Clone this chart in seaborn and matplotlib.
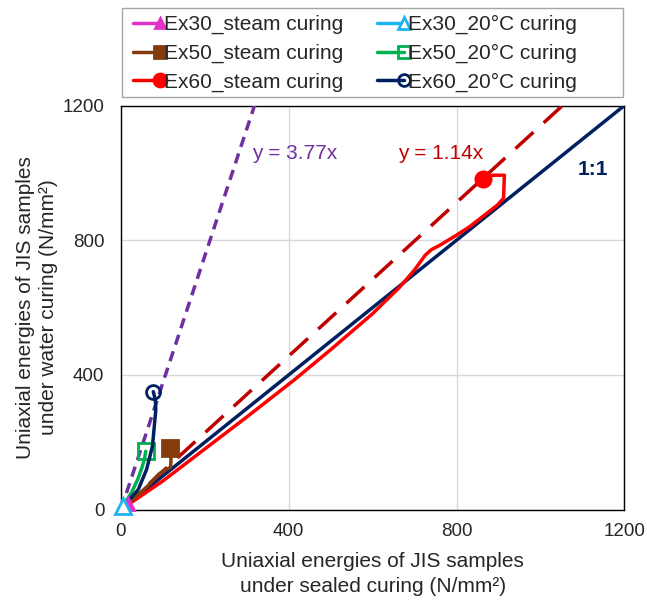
import numpy as np
import pandas as pd
import matplotlib
matplotlib.use("Agg")
import matplotlib.pyplot as plt
from matplotlib.legend_handler import HandlerLine2D
from matplotlib.patches import Rectangle
import seaborn as sns

# Uniaxial energy paths (sealed curing on x, water curing on y), N/mm2
ex30_steam_x = [0, 6, 12, 17]
ex30_steam_y = [0, 5, 10, 15]
ex30_20c_x = [0, 2, 4]
ex30_20c_y = [0, 5, 10]
ex50_steam_x = [0, 30, 63, 90, 105, 118, 119, 119, 118]
ex50_steam_y = [0, 32, 69, 105, 118, 125, 140, 160, 183]
ex50_20c_x = [0, 10, 25, 40, 50, 56, 59]
ex50_20c_y = [0, 20, 50, 90, 125, 150, 173]
ex60_steam_x = [0, 100, 200, 300, 413, 500, 600, 664, 700, 725, 740, 760,
                800, 831, 860, 898, 912, 914, 886, 863]
ex60_steam_y = [0, 85, 180, 275, 385, 475, 582, 660, 712, 755, 772, 785,
                815, 840, 868, 905, 925, 993, 993, 983]
ex60_20c_x = [0, 14, 41, 61, 75, 83, 82, 77]
ex60_20c_y = [0, 21, 59, 119, 188, 296, 325, 350]

# Fitted slopes and reference line
slope_20c = 3.77
slope_steam = 1.14
axis_max = 1200
ticks = [0, 400, 800, 1200]

FS = 15
TICK_FS = 13.5

sns.set_style("white")
plt.rcParams["font.family"] = ["Liberation Sans", "DejaVu Sans"]
plt.rcParams["font.size"] = FS

W, H = 647, 603
fig = plt.figure(figsize=(W / 100, H / 100), dpi=100)
ax = fig.add_axes([0.187, 0.155, 0.778, 0.670])

# reference lines
ref_x = [0, axis_max]
sns.lineplot(x=ref_x, y=ref_x, ax=ax, color="#002060", lw=2.5, zorder=2)
sns.lineplot(x=[0, axis_max / slope_20c], y=[0, axis_max], ax=ax,
             color="#7030A0", lw=2.5, zorder=2)
ax.lines[-1].set_dashes([3, 2])
sns.lineplot(x=[0, axis_max / slope_steam], y=[0, axis_max], ax=ax,
             color="#C00000", lw=2.5, zorder=2)
ax.lines[-1].set_dashes([7, 4])

series = [
    ("Ex30_steam curing", ex30_steam_x, ex30_steam_y, "#E032C8", "^", "#E032C8", 8),
    ("Ex30_20°C curing", ex30_20c_x, ex30_20c_y, "#1EB4F0", "^", "white", 11),
    ("Ex50_steam curing", ex50_steam_x, ex50_steam_y, "#843C0C", "s", "#843C0C", 11),
    ("Ex50_20°C curing", ex50_20c_x, ex50_20c_y, "#00B050", "s", "none", 11),
    ("Ex60_steam curing", ex60_steam_x, ex60_steam_y, "#FF0000", "o", "#FF0000", 11),
    ("Ex60_20°C curing", ex60_20c_x, ex60_20c_y, "#002060", "o", "none", 10),
]
draw_order = [4, 2, 3, 5, 0, 1]
handles = {}
for i in draw_order:
    name, xs, ys, col, mk, face, ms = series[i]
    df = pd.DataFrame({"x": xs, "y": ys})
    sns.lineplot(data=df, x="x", y="y", ax=ax, sort=False, estimator=None,
                 color=col, lw=2.5, marker=mk, markevery=[-1], markersize=ms,
                 markerfacecolor=face, markeredgecolor=col, markeredgewidth=2,
                 zorder=3, clip_on=False)
    handles[i] = ax.lines[-1]

ax.set_xlim(0, axis_max)
ax.set_ylim(0, axis_max)
ax.set_xticks(ticks)
ax.set_yticks(ticks)
ax.grid(True, color="#D9D9D9", lw=1)
ax.set_axisbelow(True)
for sp in ax.spines.values():
    sp.set_visible(True)
    sp.set_color("black")
    sp.set_linewidth(1)
    sp.set_zorder(1)
ax.tick_params(axis="x", direction="in", length=5, width=1, color="black",
               pad=10, labelsize=TICK_FS)
ax.tick_params(axis="y", length=0, pad=12, labelsize=TICK_FS)

ax.set_xlabel("Uniaxial energies of JIS samples\nunder sealed curing (N/mm²)",
              fontsize=FS, labelpad=8, linespacing=1.45)
ax.set_ylabel("Uniaxial energies of JIS samples\nunder water curing (N/mm²)",
              fontsize=FS, labelpad=3, linespacing=1.3)

ax.text(312, 1058, "y = 3.77x", color="#7030A0", fontsize=FS, va="center")
ax.text(660, 1058, "y = 1.14x", color="#C00000", fontsize=FS, va="center")
ax.text(1088, 1010, "1:1", color="#002060", fontsize=FS, fontweight="bold",
        va="center")


class EndMarkerHandler(HandlerLine2D):
    def create_artists(self, legend, orig_handle, xdescent, ydescent,
                       width, height, fontsize, trans):
        artists = super().create_artists(legend, orig_handle, xdescent,
                                         ydescent, width, height, fontsize,
                                         trans)
        for a in artists:
            a.set_markevery([2])
        return artists


# legend frame box
fig.patches.append(Rectangle((122 / W, 1 - 97 / H), 501 / W, 89 / H,
                             transform=fig.transFigure, facecolor="white",
                             edgecolor="#A6A6A6", lw=1, zorder=0))

leg_order = [0, 2, 4, 1, 3, 5]
leg = fig.legend([handles[i] for i in leg_order],
                 [series[i][0] for i in leg_order],
                 ncol=2, loc="upper left",
                 bbox_to_anchor=(129 / W, 1 - 11 / H),
                 borderaxespad=0, frameon=False, fontsize=FS,
                 markerscale=0.85, handlelength=1.3, handletextpad=0.2,
                 labelspacing=0.45, borderpad=0.2, columnspacing=1.6,
                 numpoints=1,
                 handler_map={matplotlib.lines.Line2D: EndMarkerHandler()})

fig.savefig("out.png", dpi=100)
